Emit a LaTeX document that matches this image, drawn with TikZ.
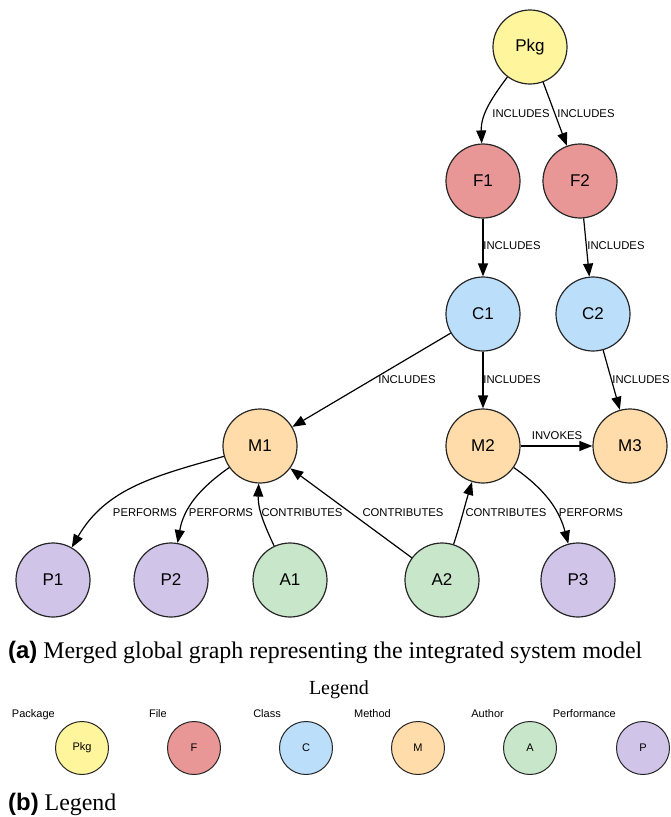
\documentclass[tikz,border=0pt]{standalone}
\usepackage{fontspec}
\setmainfont{Liberation Serif}
\newfontfamily\arial{Liberation Sans}
\usetikzlibrary{arrows.meta}
\definecolor{pkgcol}{HTML}{FFF59D}
\definecolor{filecol}{HTML}{E99696}
\definecolor{classcol}{HTML}{BBDEFB}
\definecolor{methodcol}{HTML}{FFDCAA}
\definecolor{authorcol}{HTML}{C8E6C9}
\definecolor{perfcol}{HTML}{D1C4E9}
\begin{document}
\begin{tikzpicture}[x=1pt,y=1pt,
  entity/.style={circle, draw=black!85, line width=1.2pt, minimum size=74pt,
    inner sep=0pt, font=\arial\fontsize{17}{20}\selectfont},
  keynode/.style={circle, draw=black!85, line width=1pt, minimum size=53pt,
    inner sep=0pt, font=\arial\fontsize{11}{13}\selectfont},
  rel/.style={draw=black, line width=1.2pt, -{Triangle[length=13pt,width=10pt]}},
  lbl/.style={font=\arial\fontsize{11.3}{13}\selectfont, inner sep=0pt},
  keylbl/.style={font=\arial\fontsize{11}{13}\selectfont, inner sep=0pt, anchor=base east},
  captext/.style={font=\fontsize{23.9}{27}\selectfont, inner sep=0pt, anchor=base west},
  pkg/.style={entity, fill=pkgcol},
  file/.style={entity, fill=filecol},
  class/.style={entity, fill=classcol},
  method/.style={entity, fill=methodcol},
  author/.style={entity, fill=authorcol},
  perf/.style={entity, fill=perfcol}]
\useasboundingbox (0,0) rectangle (670,-817);

% entities of the merged graph
\node[pkg]    (Pkg) at (530,-47)  {Pkg};
\node[file]   (F1)  at (483,-181) {F1};
\node[file]   (F2)  at (580,-181) {F2};
\node[class]  (C1)  at (483,-314) {C1};
\node[class]  (C2)  at (593,-314) {C2};
\node[method] (M1)  at (260,-446) {M1};
\node[method] (M2)  at (483,-446) {M2};
\node[method] (M3)  at (630,-446) {M3};
\node[perf]   (P1)  at (53,-580)  {P1};
\node[perf]   (P2)  at (171,-580) {P2};
\node[author] (A1)  at (290,-580) {A1};
\node[author] (A2)  at (442,-580) {A2};
\node[perf]   (P3)  at (578,-580) {P3};

% relations
\draw[rel] (Pkg) to[out=233,in=92] (F1);
\draw[rel] (Pkg) -- (F2);
\draw[rel] (F1) -- (C1);
\draw[rel] (F2) -- (C2);
\draw[rel] (C1) -- (M1);
\draw[rel] (C1) -- (M2);
\draw[rel] (C2) -- (M3);
\draw[rel] (M2) -- (M3);
\draw[rel] (M1) to[out=196,in=60] (P1);
\draw[rel] (M1) to[out=215,in=80] (P2);
\draw[rel] (A1) to[out=115,in=268] (M1);
\draw[rel] (A2) -- (M1);
\draw[rel] (A2) to[out=72,in=253] (M2);
\draw[rel] (M2) to[out=-35,in=105] (P3);

% relation labels
\node[lbl] (lPkgF1) at (521,-114) {INCLUDES};
\node[lbl] (lPkgF2) at (586,-114) {INCLUDES};
\node[lbl] (lF1C1)  at (512,-246) {INCLUDES};
\node[lbl] (lF2C2)  at (616,-246) {INCLUDES};
\node[lbl] (lC1M1)  at (407,-380) {INCLUDES};
\node[lbl] (lC1M2)  at (512,-380) {INCLUDES};
\node[lbl] (lC2M3)  at (641,-380) {INCLUDES};
\node[lbl] (lM2M3)  at (557,-436) {INVOKES};
\node[lbl] (lM1P1)  at (145,-513) {PERFORMS};
\node[lbl] (lM1P2)  at (221,-513) {PERFORMS};
\node[lbl] (lA1M1)  at (302,-513) {CONTRIBUTES};
\node[lbl] (lA2M1)  at (403,-513) {CONTRIBUTES};
\node[lbl] (lA2M2)  at (506,-513) {CONTRIBUTES};
\node[lbl] (lM2P3)  at (591,-513) {PERFORMS};

% caption (a)
\node[captext] (capA) at (8,-658) {{\arial\bfseries (a)} Merged global graph representing the integrated system model};

% legend
\node[font=\fontsize{20}{24}\selectfont, inner sep=0pt] (legtitle) at (339,-690) {Legend};
\node[keynode, fill=pkgcol]    (kPkg) at (82,-748)  {Pkg};
\node[keynode, fill=filecol]   (kF)   at (194,-748) {F};
\node[keynode, fill=classcol]  (kC)   at (306,-748) {C};
\node[keynode, fill=methodcol] (kM)   at (418,-748) {M};
\node[keynode, fill=authorcol] (kA)   at (530,-748) {A};
\node[keynode, fill=perfcol]   (kP)   at (643,-748) {P};
\node[keylbl] (tPkg) at (55,-717)  {Package};
\node[keylbl] (tF)   at (167,-717) {File};
\node[keylbl] (tC)   at (281,-717) {Class};
\node[keylbl] (tM)   at (391,-717) {Method};
\node[keylbl] (tA)   at (504,-717) {Author};
\node[keylbl] (tP)   at (616,-717) {Performance};

% caption (b)
\node[captext] (capB) at (8,-810) {{\arial\bfseries (b)} Legend};
\end{tikzpicture}
\end{document}
